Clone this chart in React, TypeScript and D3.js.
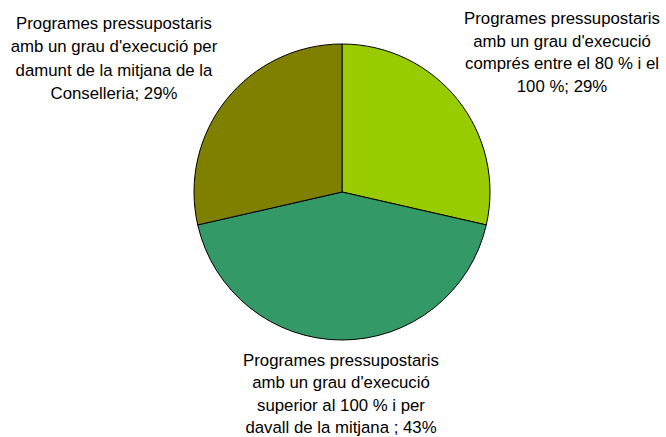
import React from "react";
import * as d3 from "d3";

const categories = [
  "Programes pressupostaris amb un grau d'execució comprés entre el 80 % i el 100 %",
  "Programes pressupostaris amb un grau d'execució superior al 100 % i per davall de la mitjana",
  "Programes pressupostaris amb un grau d'execució per damunt de la mitjana de la Conselleria",
];
const values = [2, 3, 2];
const colors = ["#99CC00", "#339966", "#808000"];
const labelLines = [
  ["Programes pressupostaris", "amb un grau d'execució", "comprés entre el 80 % i el", "100 %; 29%"],
  ["Programes pressupostaris", "amb un grau d'execució", "superior al 100 % i per", "davall de la mitjana ; 43%"],
  ["Programes pressupostaris", "amb un grau d'execució per", "damunt de la mitjana de la", "Conselleria; 29%"],
];
const labelPos = [
  { x: 562, y: 24, dy: 22.6 },
  { x: 341, y: 366, dy: 22.3 },
  { x: 114, y: 29, dy: 23.4 },
];

export default function App() {
  const W = 666, H = 437;
  const cx = 342, cy = 192, r = 148;
  const pie = d3.pie<number>().sort(null).value((d) => d);
  const arcs = pie(values);
  const arc = d3.arc<d3.PieArcDatum<number>>().innerRadius(0).outerRadius(r);
  return (
    <svg width={W} height={H} style={{ position: "absolute", left: 0, top: 0, background: "#fff" }}
      fontFamily="'Liberation Sans', Arial, sans-serif">
      <g transform={`translate(${cx},${cy})`}>
        {arcs.map((a, i) => (
          <path key={i} d={arc(a) || ""} fill={colors[i]} stroke="#000" strokeWidth={1}>
            <title>{categories[i]}</title>
          </path>
        ))}
      </g>
      {labelLines.map((lines, i) => (
        <text key={i} textAnchor="middle" fontSize={16.8} fill="#000">
          {lines.map((l, j) => (
            <tspan key={j} x={labelPos[i].x} y={labelPos[i].y + j * labelPos[i].dy}>{l}</tspan>
          ))}
        </text>
      ))}
    </svg>
  );
}
